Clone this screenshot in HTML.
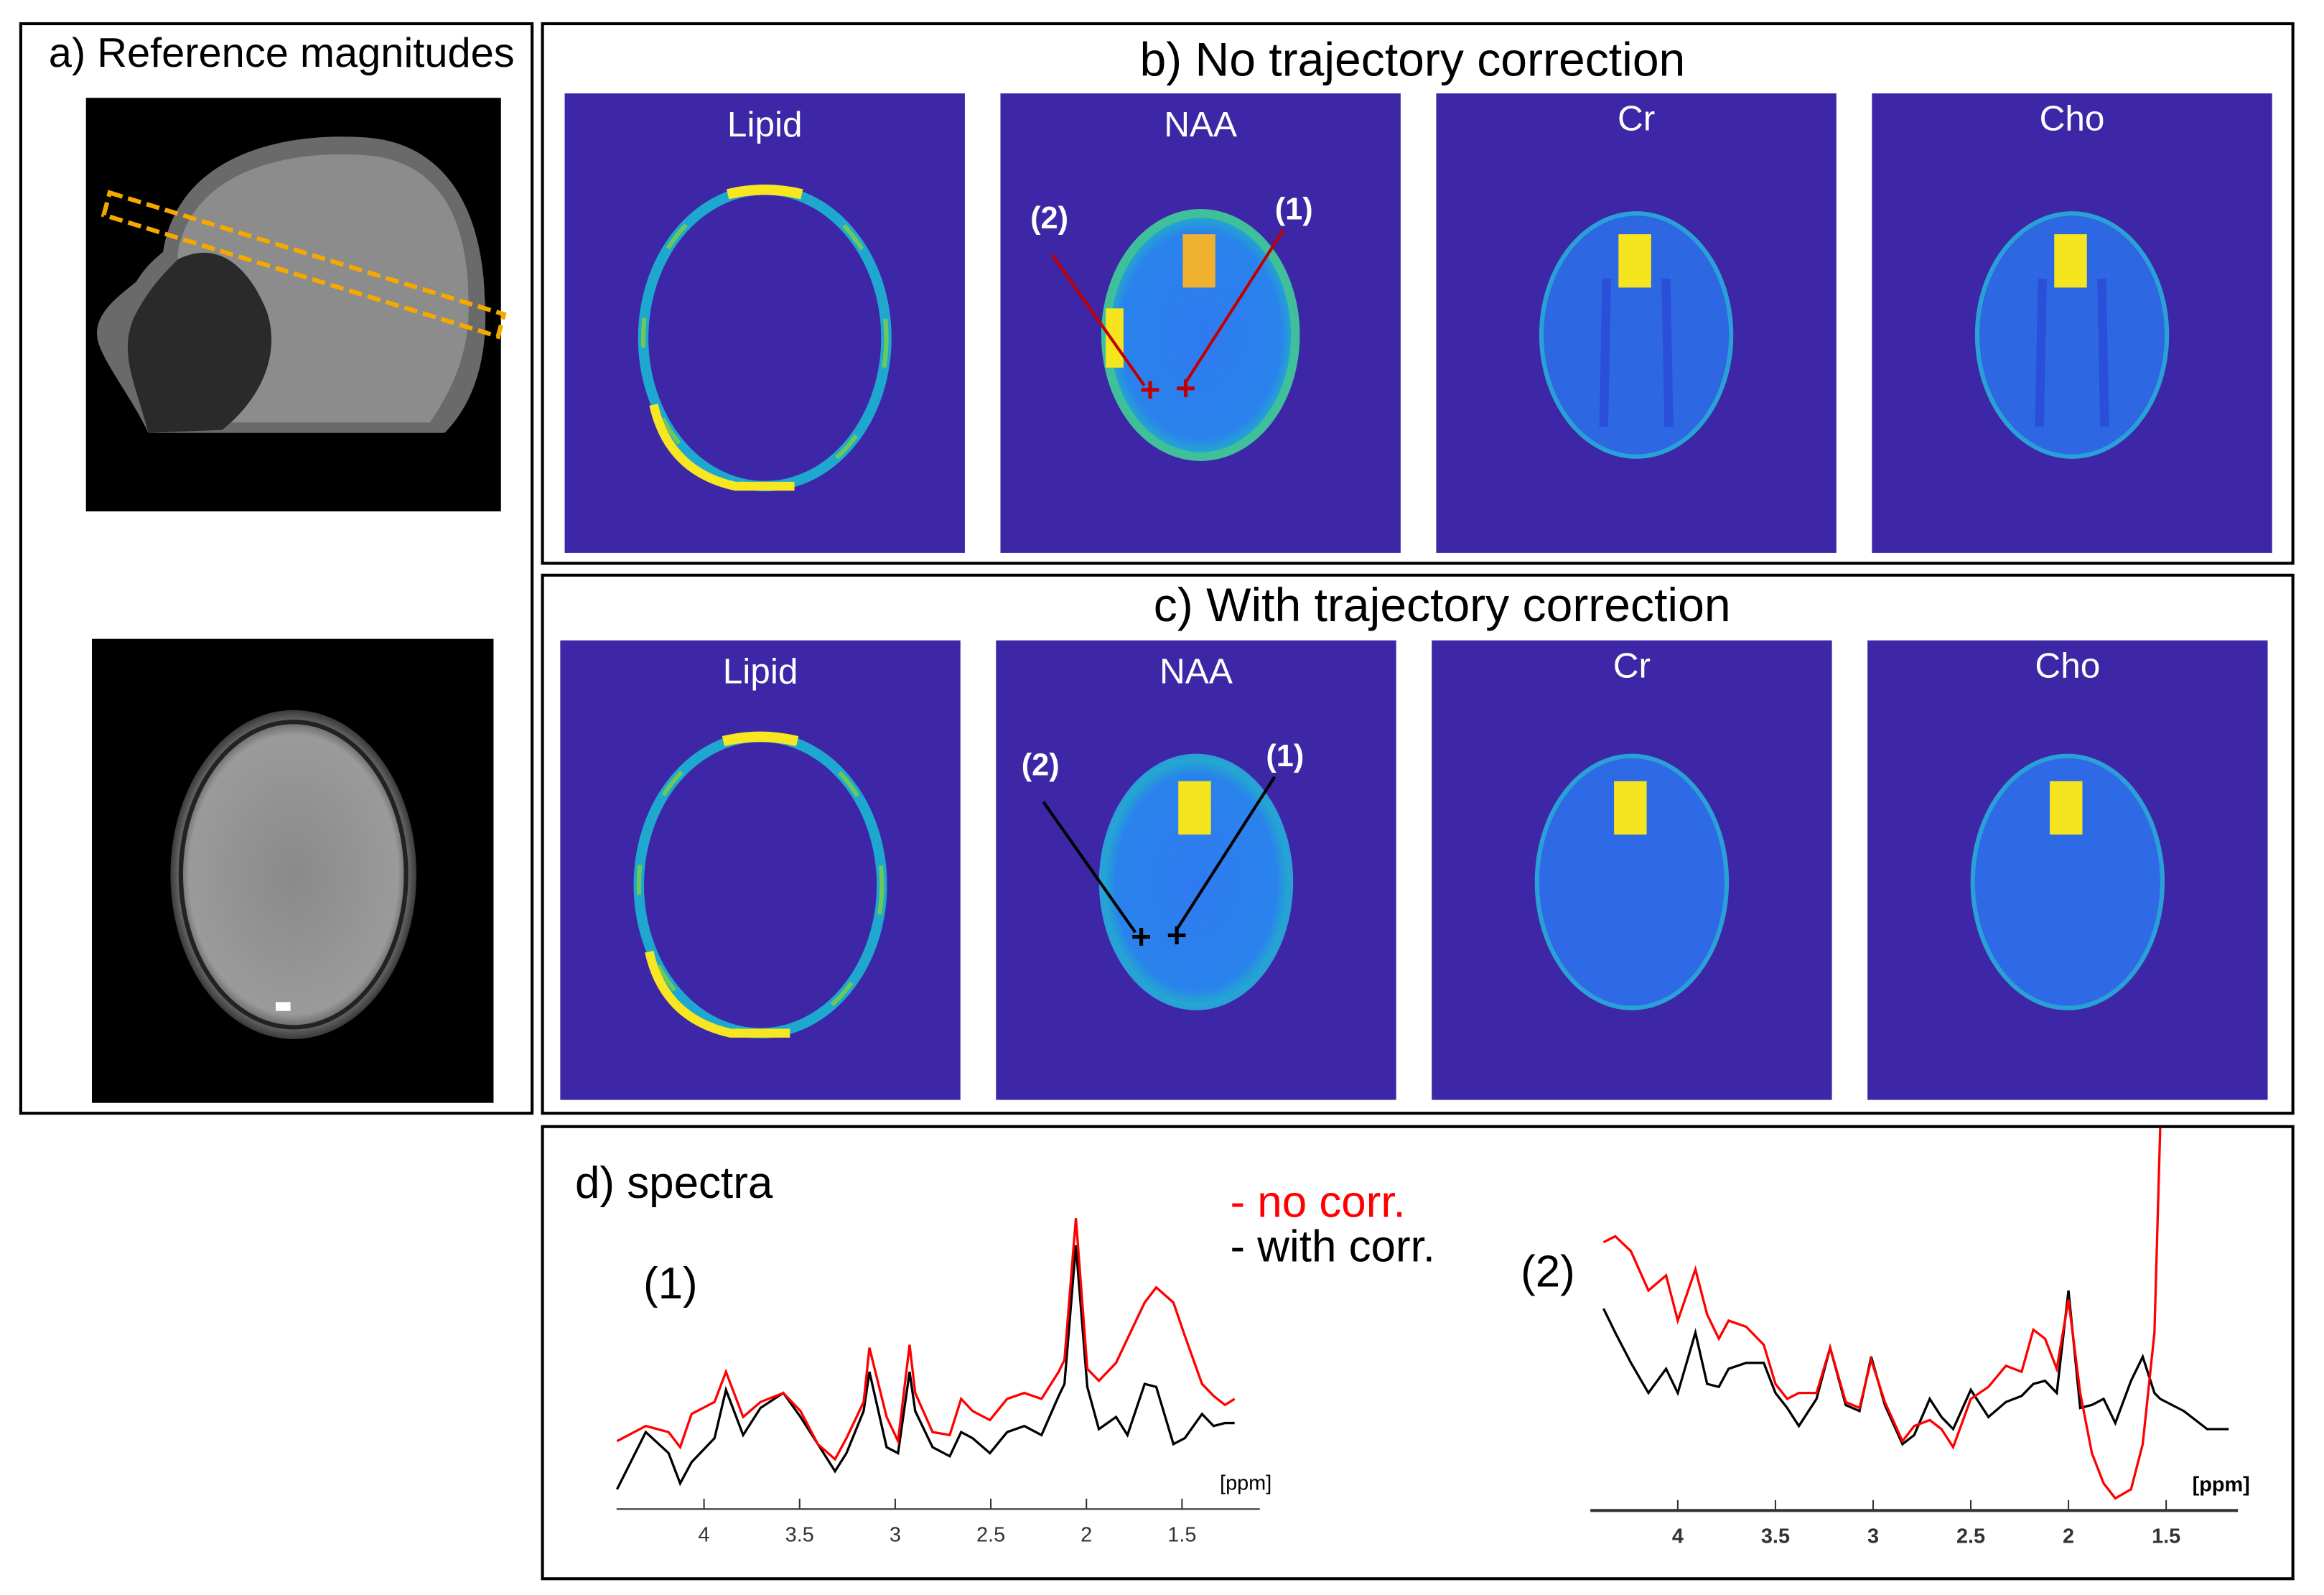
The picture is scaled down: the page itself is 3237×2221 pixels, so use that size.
<!DOCTYPE html>
<html><head><meta charset="utf-8"><style>
html,body{margin:0;padding:0;background:#fff}
svg{display:block}
text{font-family:"Liberation Sans Narrow","Liberation Sans",sans-serif}
</style></head><body>
<svg id="fig" width="3237" height="2221" viewBox="0 0 1568 1076" preserveAspectRatio="none" xmlns="http://www.w3.org/2000/svg">
<defs>
<radialGradient id="brainG" cx="50%" cy="50%" r="50%">
<stop offset="0" stop-color="#2f7af0"/><stop offset="0.85" stop-color="#2a83ec"/><stop offset="1" stop-color="#21b0c8"/>
</radialGradient>
<radialGradient id="axG" cx="50%" cy="50%" r="50%">
<stop offset="0" stop-color="#8a8a8a"/><stop offset="0.85" stop-color="#9a9a9a"/><stop offset="1" stop-color="#3a3a3a"/>
</radialGradient>
</defs>
<rect width="1568" height="1076" fill="#fff"/>

<g>
<rect x="14" y="16" width="345" height="735" fill="none" stroke="#000" stroke-width="2"/>
<text x="190" y="45" font-size="28" text-anchor="middle">a) Reference magnitudes</text>
<g>
<rect x="58" y="66" width="280" height="279" fill="#000"/>
<path d="M110,170 C120,105 190,88 250,93 C300,98 325,140 327,200 C330,240 320,272 300,292 L100,292 C90,270 70,245 66,230 C62,212 80,200 92,190 C98,180 104,175 110,170Z" fill="#6a6a6a"/>
<path d="M120,170 C130,115 195,100 250,105 C295,110 315,145 316,200 C318,235 306,262 290,285 L150,285 C140,250 130,220 120,200Z" fill="#8c8c8c"/>
<path d="M120,175 C150,160 170,185 180,210 C190,240 175,270 150,290 L100,292 C92,260 80,240 90,215 C100,195 110,185 120,175Z" fill="#2a2a2a"/>
<path d="M74,130 L340,212 L336,227 L70,145 Z" fill="none" stroke="#f5a800" stroke-width="3" stroke-dasharray="9,4"/>
</g>
<g>
<rect x="62" y="431" width="271" height="313" fill="#000"/>
<ellipse cx="198" cy="590" rx="83" ry="111" fill="url(#axG)"/>
<ellipse cx="198" cy="590" rx="76" ry="103" fill="none" stroke="#222" stroke-width="3"/>
<rect x="186" y="676" width="10" height="6" fill="#fff"/>
</g>
</g>

<g>
<rect x="366" y="16" width="1181" height="364" fill="none" stroke="#000" stroke-width="2"/>
<text x="953" y="51" font-size="32" text-anchor="middle">b) No trajectory correction</text>
</g>
<g>
<rect x="366" y="388" width="1181" height="363" fill="none" stroke="#000" stroke-width="2"/>
<text x="973" y="419" font-size="32" text-anchor="middle">c) With trajectory correction</text>
</g>
<g id="maps"></g>

<g>
<rect x="366" y="760" width="1181" height="305" fill="none" stroke="#000" stroke-width="2"/>
<text x="388" y="808" font-size="30">d) spectra</text>
<text x="830" y="821" font-size="30" fill="#ff0000">- no corr.</text>
<text x="830" y="851" font-size="30" fill="#000">- with corr.</text>
<text x="434" y="876" font-size="30">(1)</text>
<text x="1026" y="868" font-size="30">(2)</text>
</g>
<g id="spectra"></g>
</svg>
<script>
// ---- spectrum 1 data (ppm, intensity a.u.) ----
const s1Ppm   = [4.455,4.305,4.185,4.125,4.065,3.945,3.885,3.795,3.705,3.585,3.495,3.405,3.315,3.255,3.165,3.135,3.045,2.985,2.925,2.895,2.805,2.715,2.655,2.595,2.505,2.415,2.325,2.235,2.145,2.115,2.055,1.995,1.935,1.845,1.785,1.695,1.635,1.545,1.485,1.395,1.335,1.275,1.225];
const s1Red   = [24,29,27,22,33,37,47,32,37,40,34,23,18,25,37,55,32,24,56,40,27,26,38,34,31,38,40,38,47,51,98,48,44,50,58,70,75,70,59,43,39,36,38];
const s1Black = [8,27,20,10,17,25,41,26,35,40,32,23,14,20,34,47,22,20,47,34,22,19,27,25,20,27,29,26,39,43,89,42,28,32,26,43,42,23,25,33,29,30,30];
const s1Ticks = [4,3.5,3,2.5,2,1.5];
// ---- spectrum 2 data ----
const s2Ppm   = [4.46,4.38,4.32,4.24,4.15,4.06,4.00,3.91,3.85,3.79,3.74,3.65,3.56,3.50,3.44,3.38,3.29,3.22,3.14,3.07,3.01,2.94,2.85,2.79,2.71,2.65,2.59,2.50,2.41,2.32,2.24,2.18,2.12,2.06,2.00,1.94,1.88,1.82,1.76,1.68,1.62,1.56,1.53,1.41,1.29,1.18,1.11];
const s2Red   = [87.5,90,92,87,74,79,64,81,66,58,64,62,56,43,38,40,40,55,37,35,51,37,24,29,31,28,22,38,42,49,47,61,58,48,71,40,20,10,5,8,23,60,128,null,null,null,null];
const s2Black = [66,68,60,50,40,48,40,60,43,42,48,50,50,40,35,29,38,55,36,34,52,36,23,26,38,32,28,41,32,37,39,43,44,40,74,35,36,38,30,44,52,40,38,34,28,28,20.5];
const s2Ticks = [4,3.5,3,2.5,2,1.5];

const NS='http://www.w3.org/2000/svg';
function mk(tag, attrs, parent){const e=document.createElementNS(NS,tag);for(const k in attrs)e.setAttribute(k,attrs[k]);parent.appendChild(e);return e;}

const maps=document.getElementById('maps');
const rows=[{y:63,xs:[381,675,969,1263],corr:false},{y:432,xs:[378,672,966,1260],corr:true}];
const names=['Lipid','NAA','Cr','Cho'];
rows.forEach((r,ri)=>{
  r.xs.forEach((x,i)=>{
    const g=mk('g',{},maps);
    
    
    mk('rect',{x:x,y:r.y,width:270,height:310,fill:'#3d27a6'},g);
    const cx=x+135, cy=r.y+165;
    if(i===0){
      mk('ellipse',{cx:cx,cy:cy,rx:82,ry:100,fill:'none',stroke:'#1fa8cf','stroke-width':7},g);
      mk('ellipse',{cx:cx,cy:cy,rx:82,ry:100,fill:'none',stroke:'#6cc85a','stroke-width':3,'stroke-dasharray':'20,50'},g);
      mk('path',{d:`M${cx-25},${cy-97} Q${cx},${cy-103} ${cx+25},${cy-97}`,fill:'none',stroke:'#f8e621','stroke-width':7},g);
      mk('path',{d:`M${cx-75},${cy+45} Q${cx-65},${cy+90} ${cx-20},${cy+100} L${cx+20},${cy+100}`,fill:'none',stroke:'#f8e621','stroke-width':6},g);
    } else {
      const rx=64, ry=r.corr?85:82;
      mk('ellipse',{cx:cx,cy:cy-2,rx:rx,ry:ry,fill:i===1?'url(#brainG)':(r.corr?'#2f6ae6':'#2d67e2'),stroke:i===1&&!r.corr?'#3fbf9a':'#2aa0d8','stroke-width':i===1&&!r.corr?6:3},g);
      if(!r.corr && i>1){
        mk('path',{d:`M${cx-20},${cy-40} L${cx-22},${cy+60} M${cx+20},${cy-40} L${cx+22},${cy+60}`,stroke:'#2b4fd8','stroke-width':6,fill:'none'},g);
      }
      mk('rect',{x:cx-12,y:cy-70,width:22,height:36,fill:i===1&&!r.corr?'#f0b030':'#f5e51f'},g);
      if(i===1 && !r.corr){mk('rect',{x:cx-64,y:cy-20,width:12,height:40,fill:'#f5e51f'},g);}
    }
    const t=mk('text',{x:cx,y:r.y+(i<2?29:25),'font-size':24,fill:'#fff','text-anchor':'middle'},g);
    t.textContent=names[i];
  });
});
function annot(color,ox,oy,parentName){
  const g=mk('g',{},maps);
  
  
  mk('line',{x1:710+ox,y1:172+oy,x2:772+ox,y2:260+oy,stroke:color,'stroke-width':2},g);
  mk('line',{x1:866+ox,y1:155+oy,x2:800+ox,y2:258+oy,stroke:color,'stroke-width':2},g);
  [[776,263],[800,262]].forEach(p=>{
    mk('path',{d:`M${p[0]+ox-6},${p[1]+oy} h12 M${p[0]+ox},${p[1]+oy-6} v12`,stroke:color,'stroke-width':2.5},g);
  });
  const a=mk('text',{x:708+ox,y:154+oy,'font-size':21,'font-weight':'bold',fill:'#fff','text-anchor':'middle'},g);a.textContent='(2)';
  const b=mk('text',{x:873+ox,y:148+oy,'font-size':21,'font-weight':'bold',fill:'#fff','text-anchor':'middle'},g);b.textContent='(1)';
}
annot('#c00000',0,0,'nocorr-voxel-markers');
annot('#000',-6,369,'corr-voxel-markers');

const sp=document.getElementById('spectra');
function drawSpec(cfg){
  const g=mk('g',{},sp);
  
  
  const xOf=p=>cfg.x4+(4-p)*cfg.pxPerPpm;
  const yOf=v=>1021-2.033*v;
  const ax=mk('line',{x1:cfg.ax0,y1:cfg.axY,x2:cfg.ax1,y2:cfg.axY,stroke:'#333','stroke-width':cfg.bold?2:1},g);
  
  
  cfg.ticks.forEach(t=>{
    const x=xOf(t);
    const tk=mk('line',{x1:x,y1:cfg.axY,x2:x,y2:cfg.axY-7,stroke:'#333','stroke-width':1},g);
    
    
    const tl=mk('text',{x:x,y:cfg.axY+22,'font-size':14,'font-weight':cfg.bold?'bold':'normal','text-anchor':'middle',fill:'#333'},g);
    
    
    tl.textContent=String(t);
  });
  const u=mk('text',{x:cfg.ax1+8,y:cfg.axY-13,'font-size':14,'font-weight':cfg.bold?'bold':'normal','text-anchor':'end'},g);
  
  
  u.textContent='[ppm]';
  const toD=(arr)=>{let d='';arr.forEach((v,i)=>{if(v===null)return;const x=xOf(cfg.ppm[i]);if(x<cfg.ax0-1||x>cfg.ax1+1)return;d+=(d?'L':'M')+x.toFixed(1)+','+yOf(v).toFixed(1);});return d;};
  const b=mk('path',{d:toD(cfg.black),fill:'none',stroke:'#000','stroke-width':1.6},g);
  
  
  const r=mk('path',{d:toD(cfg.red),fill:'none',stroke:'#ff0000','stroke-width':1.6},g);
  
  
}
drawSpec({name:'spectrum-1',ppm:s1Ppm,red:s1Red,black:s1Black,ticks:s1Ticks,x4:475,pxPerPpm:129,ax0:416,ax1:850,axY:1018,bold:false});
drawSpec({name:'spectrum-2',ppm:s2Ppm,red:s2Red,black:s2Black,ticks:s2Ticks,x4:1132,pxPerPpm:131.8,ax0:1073,ax1:1510,axY:1019,bold:true});
</script>
</body></html>
